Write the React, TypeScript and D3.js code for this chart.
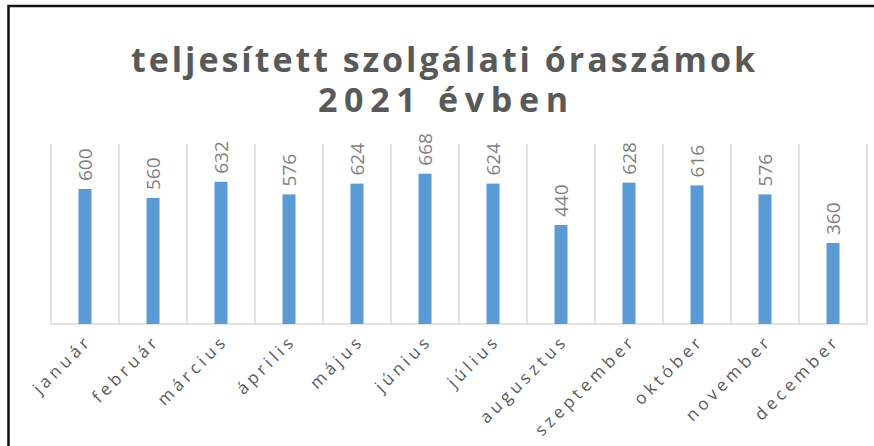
import React from "react";
import * as d3 from "d3";

const months = ["január", "február", "március", "április", "május", "június", "július", "augusztus", "szeptember", "október", "november", "december"];
const hours = [600, 560, 632, 576, 624, 668, 624, 440, 628, 616, 576, 360];
const titleLines = ["teljesített szolgálati óraszámok", "2021 évben"];
const yDomain = [0, 800];

const W = 874;
const H = 446;
const plot = { left: 51, right: 867, top: 144, bottom: 324 };

export default function App() {
  const x = d3.scaleBand<string>().domain(months).range([plot.left, plot.right]).padding(0);
  const y = d3.scaleLinear().domain(yDomain).range([plot.bottom, plot.top]);
  const bw = 13;
  const bounds = x.domain().map((m) => x(m) as number).concat([plot.right]);

  return (
    <svg width={W} height={H} style={{ position: "absolute", left: 0, top: 0, background: "#fff" }}
      fontFamily="'Open Sans', 'Liberation Sans', Arial, sans-serif">
      <rect x={0} y={0} width={W} height={H} fill="#fff" />
      <path d={`M8.5,${H} V6 H${W}`} fill="none" stroke="#111" strokeWidth={2.5} />
      {titleLines.map((t, i) => (
        <text key={t} x={443} y={72 + i * 40} textAnchor="middle" fontWeight="bold" fontSize={34}
          fill="#595959" textLength={i === 0 ? 624 : 250} lengthAdjust="spacing">{t}</text>
      ))}
      {bounds.map((bx, i) => (
        <line key={i} x1={bx} x2={bx} y1={plot.top} y2={plot.bottom} stroke="#d9d9d9" strokeWidth={1.5} />
      ))}
      <line x1={plot.left} x2={plot.right} y1={plot.bottom} y2={plot.bottom} stroke="#d9d9d9" strokeWidth={1.5} />
      {months.map((m, i) => {
        const c = (x(m) as number) + x.bandwidth() / 2;
        const top = y(hours[i]);
        return (
          <g key={m}>
            <rect x={c - bw / 2} y={top} width={bw} height={plot.bottom - top} fill="#5b9bd5" />
            <text transform={`translate(${c + 7},${top - 8}) rotate(-90)`} fontSize={19}
              fill="#7f7f7f">{hours[i]}</text>
            <text transform={`translate(${c + 8},${342}) rotate(-45)`} textAnchor="end" fontSize={17}
              letterSpacing={4} fill="#595959">{m}</text>
          </g>
        );
      })}
    </svg>
  );
}
